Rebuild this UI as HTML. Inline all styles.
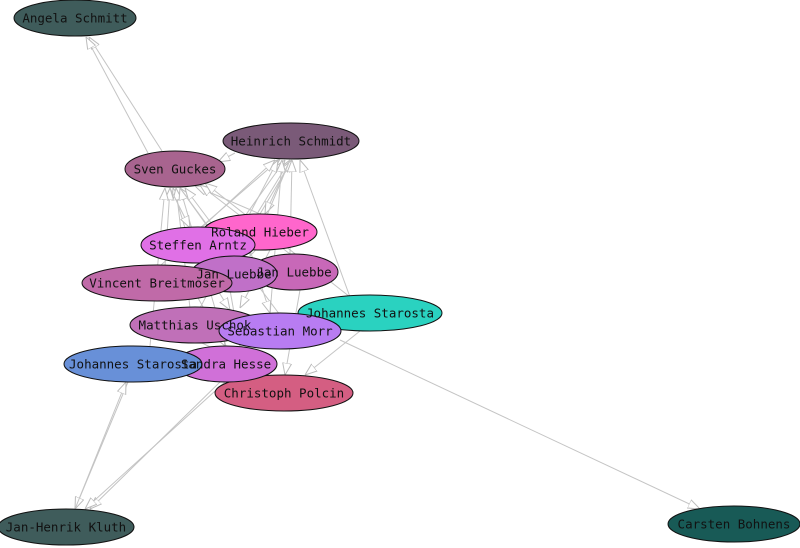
<!DOCTYPE html>
<html><head><meta charset="utf-8"><style>
html,body{margin:0;padding:0;background:#fff;width:800px;height:548px;overflow:hidden}
svg text{font-family:"DejaVu Sans Mono","Liberation Mono",monospace;font-size:12.5px;fill:#111;text-anchor:middle;dominant-baseline:central}
</style></head><body>
<svg width="800" height="548" viewBox="0 0 800 548" xmlns="http://www.w3.org/2000/svg">
<defs><marker id="a" viewBox="0 0 12 10" refX="12" refY="5" markerWidth="12" markerHeight="10" markerUnits="userSpaceOnUse" orient="auto"><path d="M0,0.5 L12,5 L0,9.5 Z" fill="#fff" stroke="#bbb" stroke-width="1"/></marker></defs>
<g stroke="#c4c4c4" stroke-width="1" fill="none" marker-end="url(#a)">
<line x1="162" y1="151" x2="89" y2="37"/>
<line x1="148" y1="153" x2="86" y2="37"/>
<line x1="235" y1="153" x2="218" y2="162"/>
<line x1="200" y1="228" x2="280" y2="159"/>
<line x1="215" y1="258" x2="285" y2="160"/>
<line x1="230" y1="258" x2="290" y2="160"/>
<line x1="260" y1="214" x2="292" y2="160"/>
<line x1="290" y1="254" x2="292" y2="160"/>
<line x1="350" y1="297" x2="300" y2="160"/>
<line x1="270" y1="315" x2="282" y2="160"/>
<line x1="200" y1="308" x2="278" y2="160"/>
<line x1="160" y1="266" x2="275" y2="160"/>
<line x1="185" y1="228" x2="173" y2="188"/>
<line x1="165" y1="266" x2="170" y2="188"/>
<line x1="190" y1="308" x2="176" y2="188"/>
<line x1="230" y1="258" x2="180" y2="188"/>
<line x1="260" y1="214" x2="195" y2="186"/>
<line x1="290" y1="254" x2="200" y2="185"/>
<line x1="280" y1="315" x2="185" y2="188"/>
<line x1="150" y1="346" x2="165" y2="188"/>
<line x1="226" y1="346" x2="180" y2="188"/>
<line x1="350" y1="297" x2="205" y2="183"/>
<line x1="170" y1="188" x2="190" y2="228"/>
<line x1="180" y1="188" x2="230" y2="256"/>
<line x1="290" y1="160" x2="265" y2="214"/>
<line x1="290" y1="160" x2="250" y2="256"/>
<line x1="200" y1="262" x2="230" y2="310"/>
<line x1="250" y1="250" x2="270" y2="313"/>
<line x1="300" y1="290" x2="285" y2="375"/>
<line x1="360" y1="331" x2="305" y2="375"/>
<line x1="200" y1="342" x2="270" y2="376"/>
<line x1="230" y1="290" x2="240" y2="346"/>
<line x1="180" y1="266" x2="225" y2="346"/>
<line x1="270" y1="250" x2="240" y2="308"/>
<line x1="340" y1="340" x2="700" y2="509"/>
<line x1="220" y1="382" x2="90" y2="509"/>
<line x1="225" y1="382" x2="85" y2="509"/>
<line x1="128" y1="382" x2="75" y2="509"/>
<line x1="75" y1="509" x2="126" y2="382"/>
</g>
<g stroke="#111" stroke-width="1">
<ellipse cx="75" cy="18" rx="61" ry="18" fill="#3f5c5b"/>
<ellipse cx="291" cy="141" rx="68" ry="18" fill="#7a5a78"/>
<ellipse cx="175" cy="169" rx="50" ry="18" fill="#a8648f"/>
<ellipse cx="260" cy="232" rx="57" ry="18" fill="#ff66cc"/>
<ellipse cx="198" cy="245" rx="57" ry="18" fill="#e070e6"/>
<ellipse cx="294" cy="272" rx="44" ry="18" fill="#c868b8"/>
<ellipse cx="234" cy="274" rx="43" ry="18" fill="#c070c8"/>
<ellipse cx="157" cy="283" rx="75" ry="18" fill="#c06aa8"/>
<ellipse cx="370" cy="313" rx="72" ry="18" fill="#2ad2c0"/>
<ellipse cx="195" cy="325" rx="65" ry="18" fill="#c070b8"/>
<ellipse cx="280" cy="331" rx="61" ry="18" fill="#b87cf2"/>
<ellipse cx="284" cy="393" rx="69" ry="18" fill="#d45e82"/>
<ellipse cx="226" cy="364" rx="51" ry="18" fill="#d070d8"/>
<ellipse cx="133" cy="364" rx="69" ry="18" fill="#6890d8"/>
<ellipse cx="66" cy="527" rx="68" ry="18" fill="#3f5c5b"/>
<ellipse cx="734" cy="524" rx="66" ry="18" fill="#185a56"/>
</g>
<g>
<text x="75" y="18">Angela Schmitt</text>
<text x="291" y="141">Heinrich Schmidt</text>
<text x="175" y="169">Sven Guckes</text>
<text x="260" y="232">Roland Hieber</text>
<text x="198" y="245">Steffen Arntz</text>
<text x="294" y="272">Jan Luebbe</text>
<text x="234" y="274">Jan Luebbe</text>
<text x="157" y="283">Vincent Breitmoser</text>
<text x="370" y="313">Johannes Starosta</text>
<text x="195" y="325">Matthias Uschok</text>
<text x="280" y="331">Sebastian Morr</text>
<text x="284" y="393">Christoph Polcin</text>
<text x="226" y="364">Sandra Hesse</text>
<text x="133" y="364">Johannes Starosta</text>
<text x="66" y="527">Jan-Henrik Kluth</text>
<text x="734" y="524">Carsten Bohnens</text>
</g>
</svg>
</body></html>
